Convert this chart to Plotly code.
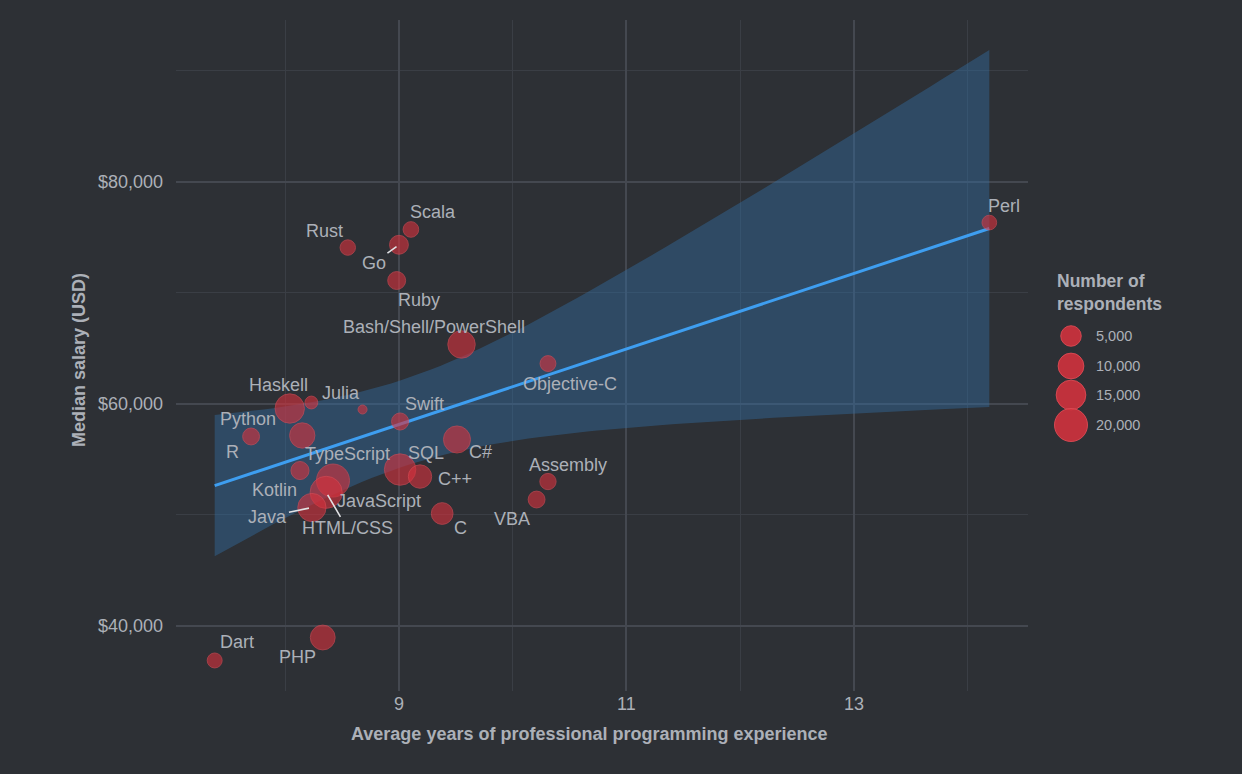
import numpy as np
import plotly.graph_objects as go

# ---------------- data ----------------
languages = ["Perl", "Scala", "Go", "Rust", "Ruby", "Bash/Shell/PowerShell", "Objective-C",
             "Haskell", "Python", "Julia", "Swift", "R", "TypeScript", "C#", "SQL", "C++",
             "Kotlin", "JavaScript", "HTML/CSS", "Java", "C", "Assembly", "VBA", "Dart", "PHP"]
years_experience = [14.19, 9.105, 9.00, 8.55, 8.98, 9.55, 10.31,
                    8.23, 8.04, 8.68, 9.01, 7.70, 8.15, 9.51, 9.01, 9.185,
                    8.13, 8.42, 8.36, 8.235, 9.38, 10.31, 10.21, 7.38, 8.33]
median_salary = [76300, 75680, 74300, 74050, 71080, 65320, 63600,
                 60090, 59550, 59460, 58380, 57030, 57120, 56760, 54050, 53420,
                 53960, 53060, 52000, 50630, 50090, 52970, 51350, 36850, 38920]
respondents = [1600, 2000, 3800, 1900, 3200, 12000, 2100,
               1000, 14500, 500, 2700, 2600, 9500, 11500, 17500, 7500,
               3300, 20000, 18500, 13000, 6000, 2300, 2600, 1700, 9000]
legend_values = [5000, 10000, 15000, 20000]
legend_labels = ["5,000", "10,000", "15,000", "20,000"]
y_tick_values = [40000, 60000, 80000]
y_tick_labels = ["$40,000", "$60,000", "$80,000"]
x_tick_values = [9, 11, 13]

# ---------------- styles ----------------
BG = "rgb(45,48,53)"
TXT = "rgb(172,176,184)"
FONT = "Liberation Sans, Arial, sans-serif"
PT_FILL = "rgba(216,50,62,0.86)"
PT_LINE = "rgba(220,74,84,0.9)"

# label offsets (pixels) : (dx, dy, arrow)
label_pos = {
    "Perl": (15, -17, False), "Scala": (22, -17, False), "Go": (-25, 18, True),
    "Rust": (-23, -17, False), "Ruby": (22, 19, False), "Bash/Shell/PowerShell": (-28, -17, False),
    "Objective-C": (22, 20, False), "Haskell": (-33, -18, False), "Python": (-42, 10, False),
    "Julia": (-22, -17, False), "Swift": (24, -17, False), "R": (-19, 16, False),
    "TypeScript": (45, 19, False), "C#": (24, 13, False), "SQL": (26, -17, False),
    "C++": (35, 2, False), "Kotlin": (-25, 19, False), "JavaScript": (46, 20, False),
    "HTML/CSS": (21, 36, True), "Java": (-44, 9, True), "C": (18, 14, False),
    "Assembly": (20, -17, False), "VBA": (-25, 19, False), "Dart": (22, -18, False),
    "PHP": (-25, 19, False),
}


def diameter(n):
    n = np.asarray(n, dtype=float)
    return 9 + 0.172 * np.sqrt(np.clip(n - 500, 0, None))


x = np.array(years_experience)
y = np.array(median_salary)

# linear fit with 95% confidence band (as geom_smooth(method="lm"))
nobs = len(x)
slope, intercept = np.polyfit(x, y, 1)
resid = y - (slope * x + intercept)
s = np.sqrt(np.sum(resid ** 2) / (nobs - 2))
sxx = np.sum((x - x.mean()) ** 2)
xs = np.linspace(x.min(), x.max(), 80)
fit = slope * xs + intercept
t_crit = 2.069  # t(0.975, df=23)
se = s * np.sqrt(1 / nobs + (xs - x.mean()) ** 2 / sxx)
upper = fit + t_crit * se
lower = fit - t_crit * se

fig = go.Figure()
fig.add_trace(go.Scatter(x=xs, y=lower, mode="lines", line=dict(width=0), hoverinfo="skip", showlegend=False))
fig.add_trace(go.Scatter(x=xs, y=upper, mode="lines", line=dict(width=0), fill="tonexty",
                         fillcolor="rgba(50,113,168,0.42)", hoverinfo="skip", showlegend=False))
fig.add_trace(go.Scatter(x=xs, y=fit, mode="lines", line=dict(color="rgb(62,158,240)", width=3),
                         hoverinfo="skip", showlegend=False))
fig.add_trace(go.Scatter(
    x=x, y=y, mode="markers", text=languages, showlegend=False,
    marker=dict(size=diameter(respondents), color=PT_FILL, line=dict(width=1, color=PT_LINE)),
))

for lang, xv, yv in zip(languages, years_experience, median_salary):
    dx, dy, arrow = label_pos[lang]
    if arrow:
        fig.add_annotation(x=xv, y=yv, text=lang, showarrow=True, ax=dx, ay=dy,
                           arrowhead=0, arrowwidth=1.6, arrowcolor="rgb(225,225,228)", standoff=3,
                           font=dict(family=FONT, size=18, color=TXT))
    else:
        fig.add_annotation(x=xv, y=yv, text=lang, showarrow=False, xshift=dx, yshift=-dy,
                           font=dict(family=FONT, size=18, color=TXT))

# pixel helpers
PX_L, PX_R, PY_T, PY_B = 176, 1028, 20, 691


def px_to_paper_x(px):
    return (px - PX_L) / (PX_R - PX_L)


def py_to_paper_y(py):
    return (PY_B - py) / (PY_B - PY_T)


# axis titles
fig.add_annotation(xref="paper", yref="paper", x=px_to_paper_x(589), y=py_to_paper_y(734),
                   xanchor="center", yanchor="middle", showarrow=False,
                   text="<b>Average years of professional programming experience</b>",
                   font=dict(family=FONT, size=18, color=TXT))
fig.add_annotation(xref="paper", yref="paper", x=px_to_paper_x(79), y=py_to_paper_y(360),
                   xanchor="center", yanchor="middle", showarrow=False, textangle=-90,
                   text="<b>Median salary (USD)</b>",
                   font=dict(family=FONT, size=18, color=TXT))

# manual size legend
fig.add_annotation(xref="paper", yref="paper", x=px_to_paper_x(1055), y=py_to_paper_y(269),
                   xanchor="left", yanchor="top", align="left", showarrow=False,
                   text="<b>Number of<br>respondents</b>",
                   font=dict(family=FONT, size=17.5, color=TXT))
legend_y = [336, 366, 395, 425]
for val, lab, ly in zip(legend_values, legend_labels, legend_y):
    r = float(diameter(val)) / 2
    fig.add_shape(type="circle", xref="paper", yref="paper", xsizemode="pixel", ysizemode="pixel",
                  xanchor=px_to_paper_x(1071), yanchor=py_to_paper_y(ly),
                  x0=-r, x1=r, y0=-r, y1=r,
                  fillcolor=PT_FILL, line=dict(width=1, color=PT_LINE))
    fig.add_annotation(xref="paper", yref="paper", x=px_to_paper_x(1094), y=py_to_paper_y(ly),
                       xanchor="left", yanchor="middle", showarrow=False, text=lab,
                       font=dict(family=FONT, size=14.5, color=TXT))

fig.update_layout(
    width=1242, height=774,
    paper_bgcolor=BG, plot_bgcolor=BG,
    margin=dict(l=PX_L, r=1242 - PX_R, t=PY_T, b=774 - PY_B),
    font=dict(family=FONT, color=TXT),
    showlegend=False,
)
fig.update_xaxes(
    range=[7.04, 14.53], tickvals=x_tick_values, showline=False, zeroline=False,
    gridcolor="rgb(68,72,80)", gridwidth=1.6,
    minor=dict(tickvals=[8, 10, 12, 14], showgrid=True, gridcolor="rgb(58,62,69)", gridwidth=1),
    tickfont=dict(size=18, color=TXT), ticks="",
)
fig.update_yaxes(
    range=[34100, 94550], tickvals=y_tick_values, ticktext=y_tick_labels, showline=False, zeroline=False,
    gridcolor="rgb(68,72,80)", gridwidth=1.6,
    minor=dict(tickvals=[50000, 70000, 90000], showgrid=True, gridcolor="rgb(58,62,69)", gridwidth=1),
    tickfont=dict(size=18, color=TXT), ticks="", ticklabelstandoff=12,
)

fig.write_html("out.html", config={"displayModeBar": False},
               post_script="document.body.style.margin='0';document.body.style.overflow='hidden';")
